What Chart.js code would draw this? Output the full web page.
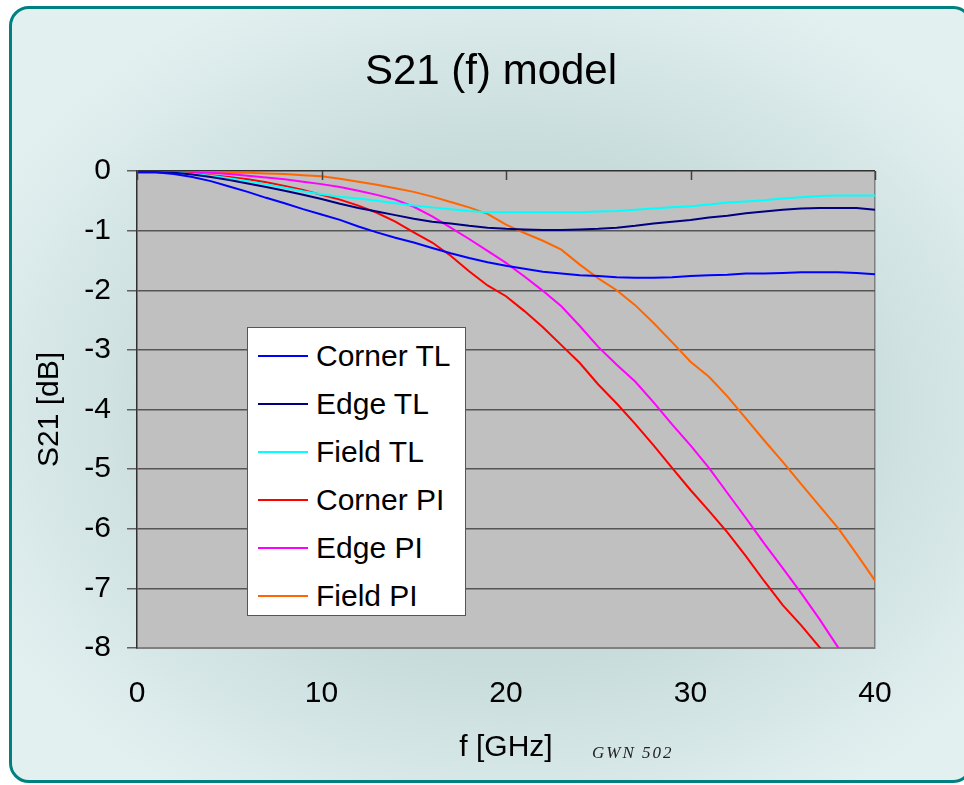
<!DOCTYPE html>
<html>
<head>
<meta charset="utf-8">
<script src="https://cdn.jsdelivr.net/npm/chart.js@4.4.0/dist/chart.umd.min.js"></script>
<style>
  html, body { margin: 0; padding: 0; background: #fff; overflow: hidden; }
  #page { position: relative; width: 964px; height: 785px; overflow: hidden;
          font-family: "Liberation Sans", Arial, sans-serif; }
  #frame { position: absolute; left: 9px; top: 6px; width: 958px; height: 771px;
           border: 3px solid #008080; border-radius: 20px;
           background: radial-gradient(ellipse 62% 60% at 52% 52%, #bfd4d4 0%, #c8dcdc 55%, #e3f0f0 100%); }
  #wrap { position: absolute; left: 0; top: 0; width: 964px; height: 785px; }
  #title { position: absolute; left: 0; width: 982px; top: 45px; line-height: 50px;
           text-align: center; font-size: 42px; color: #000; }
  #note { position: absolute; left: 592px; top: 743px; font-family: "Liberation Serif", serif;
          font-style: italic; font-size: 17px; letter-spacing: 2px; color: #222; }
  #legend { position: absolute; left: 247px; top: 327px; width: 219px; height: 289px;
            box-sizing: border-box; background: #fff; border: 1px solid #555; padding-top: 4px; }
  .row { height: 48px; display: flex; align-items: center; font-size: 30px; color: #000; }
  .row span.ln { display: inline-block; width: 50px; height: 2px; margin-left: 10px; margin-right: 8px; }
</style>
</head>
<body>
<div id="page">
  <div id="frame"></div>
  <div id="wrap"><canvas id="myChart"></canvas></div>
  <div id="title">S21 (f) model</div>
  <div id="legend"></div>
  <div id="note">GWN 502</div>
</div>
<script>
// frequency in GHz, 1 GHz steps
const freq = [0,1,2,3,4,5,6,7,8,9,10,11,12,13,14,15,16,17,18,19,20,
              21,22,23,24,25,26,27,28,29,30,31,32,33,34,35,36,37,38,39,40];

const cornerTL = [-0.02,-0.02,-0.05,-0.1,-0.17,-0.26,-0.35,-0.45,-0.54,-0.64,-0.73,
                  -0.82,-0.93,-1.03,-1.12,-1.2,-1.29,-1.38,-1.46,-1.53,-1.59,
                  -1.64,-1.69,-1.72,-1.75,-1.76,-1.78,-1.79,-1.79,-1.78,-1.76,
                  -1.75,-1.74,-1.72,-1.72,-1.71,-1.7,-1.7,-1.7,-1.71,-1.73];
const edgeTL = [-0.02,-0.02,-0.03,-0.06,-0.1,-0.15,-0.21,-0.27,-0.33,-0.4,-0.47,
                -0.55,-0.62,-0.68,-0.74,-0.8,-0.85,-0.88,-0.92,-0.95,-0.97,
                -0.98,-0.99,-0.99,-0.98,-0.97,-0.95,-0.92,-0.88,-0.85,-0.82,
                -0.78,-0.75,-0.71,-0.68,-0.65,-0.63,-0.62,-0.62,-0.62,-0.65];
const fieldTL = [-0.02,-0.02,-0.03,-0.05,-0.08,-0.12,-0.17,-0.22,-0.28,-0.34,-0.39,
                 -0.43,-0.46,-0.5,-0.54,-0.58,-0.61,-0.64,-0.67,-0.69,-0.69,
                 -0.69,-0.69,-0.69,-0.69,-0.68,-0.67,-0.65,-0.63,-0.61,-0.59,
                 -0.56,-0.53,-0.51,-0.49,-0.46,-0.44,-0.42,-0.41,-0.41,-0.41];
const cornerPI = [-0.01,-0.01,-0.02,-0.04,-0.07,-0.1,-0.14,-0.19,-0.25,-0.32,-0.4,
                  -0.48,-0.58,-0.7,-0.85,-1.03,-1.2,-1.42,-1.68,-1.92,-2.1,
                  -2.35,-2.62,-2.92,-3.22,-3.58,-3.9,-4.24,-4.6,-4.98,-5.35,
                  -5.7,-6.06,-6.46,-6.88,-7.28,-7.62,-7.99,-8.35];
const edgePI = [0,-0.01,-0.01,-0.02,-0.03,-0.05,-0.08,-0.11,-0.14,-0.18,-0.22,
                -0.27,-0.33,-0.4,-0.48,-0.6,-0.76,-0.95,-1.14,-1.34,-1.54,
                -1.77,-2.01,-2.27,-2.6,-2.95,-3.25,-3.53,-3.88,-4.25,-4.6,
                -4.98,-5.4,-5.82,-6.25,-6.66,-7.08,-7.52,-7.99,-8.45];
const fieldPI = [0,0,-0.01,-0.01,-0.02,-0.03,-0.03,-0.04,-0.05,-0.07,-0.09,
                 -0.13,-0.18,-0.23,-0.29,-0.35,-0.43,-0.52,-0.61,-0.72,-0.9,
                 -1.04,-1.17,-1.32,-1.57,-1.8,-2.0,-2.25,-2.55,-2.87,-3.2,
                 -3.45,-3.78,-4.15,-4.52,-4.88,-5.25,-5.62,-5.99,-6.42,-6.87];

const seriesNames = ['Corner TL', 'Edge TL', 'Field TL', 'Corner PI', 'Edge PI', 'Field PI'];
const seriesValues = [cornerTL, edgeTL, fieldTL, cornerPI, edgePI, fieldPI];
const seriesColors = ['#0000ff', '#000080', '#00ffff', '#ff0000', '#ff00ff', '#ff6600'];

const xTicks = [0, 10, 20, 30, 40];
const yTicks = [0, -1, -2, -3, -4, -5, -6, -7, -8];

const datasets = seriesNames.map((name, i) => ({
  label: name,
  data: seriesValues[i].map((v, k) => ({ x: freq[k], y: v })),
  borderColor: seriesColors[i],
  backgroundColor: seriesColors[i],
  borderWidth: 2,
  pointRadius: 0,
  tension: 0,
  fill: false
}));

// grey plot background + short ticks hanging from the top (0 dB) axis
const plotBits = {
  id: 'plotBits',
  beforeDraw(chart) {
    const a = chart.chartArea, c = chart.ctx;
    c.save();
    c.fillStyle = '#c0c0c0';
    c.fillRect(a.left, a.top, a.right - a.left, a.bottom - a.top);
    c.restore();
  },
  afterDraw(chart) {
    const a = chart.chartArea, c = chart.ctx, xs = chart.scales.x;
    c.save();
    c.strokeStyle = '#404040';
    c.lineWidth = 1.5;
    xTicks.forEach(t => {
      const px = Math.round(xs.getPixelForValue(t)) + 0.5;
      c.beginPath();
      c.moveTo(px, a.top);
      c.lineTo(px, a.top + 9);
      c.stroke();
    });
    c.restore();
  }
};

const ctx = document.getElementById('myChart');
new Chart(ctx, {
  type: 'line',
  data: { datasets: datasets },
  plugins: [plotBits],
  options: {
    responsive: true,
    maintainAspectRatio: false,
    animation: false,
    layout: { padding: { left: 20, right: 89, top: 171, bottom: 10 } },
    plugins: {
      legend: { display: false },
      title: { display: false },
      tooltip: { enabled: false }
    },
    scales: {
      x: {
        type: 'linear',
        min: 0, max: 40,
        afterBuildTicks: s => { s.ticks = xTicks.map(v => ({ value: v })); },
        afterFit: s => { s.height = 127; },
        ticks: { color: '#000', padding: 28, maxRotation: 0,
                 font: { family: '"Liberation Sans", Arial', size: 30 } },
        grid: {
          drawTicks: false,
          lineWidth: 1.5,
          color: c => (c.tick && c.tick.value === 40) ? '#808080' : 'rgba(0,0,0,0)'
        },
        border: { display: true, color: '#808080', width: 2 },
        title: { display: true, text: 'f [GHz]', color: '#000',
                 padding: { top: 0, bottom: 9 },
                 font: { family: '"Liberation Sans", Arial', size: 30 } }
      },
      y: {
        min: -8, max: 0,
        afterBuildTicks: s => { s.ticks = yTicks.map(v => ({ value: v })); },
        afterFit: s => { s.width = 117; },
        ticks: { color: '#000', padding: 16,
                 font: { family: '"Liberation Sans", Arial', size: 30 } },
        grid: {
          tickLength: 10,
          lineWidth: 1.5,
          tickColor: '#606060',
          color: c => {
            if (!c.tick) return '#555';
            if (c.tick.value === 0) return '#303030';
            if (c.tick.value === -8) return '#808080';
            return '#555';
          }
        },
        border: { display: true, color: '#303030', width: 1.5 },
        title: { display: true, text: 'S21 [dB]', color: '#000',
                 padding: { top: 12, bottom: 0 },
                 font: { family: '"Liberation Sans", Arial', size: 30 } }
      }
    }
  }
});

// legend box built from the dataset names and colours
const legendBox = document.getElementById('legend');
seriesNames.forEach((name, i) => {
  const row = document.createElement('div');
  row.className = 'row';
  const ln = document.createElement('span');
  ln.className = 'ln';
  ln.style.background = seriesColors[i];
  row.appendChild(ln);
  row.appendChild(document.createTextNode(name));
  legendBox.appendChild(row);
});
</script>
</body>
</html>
